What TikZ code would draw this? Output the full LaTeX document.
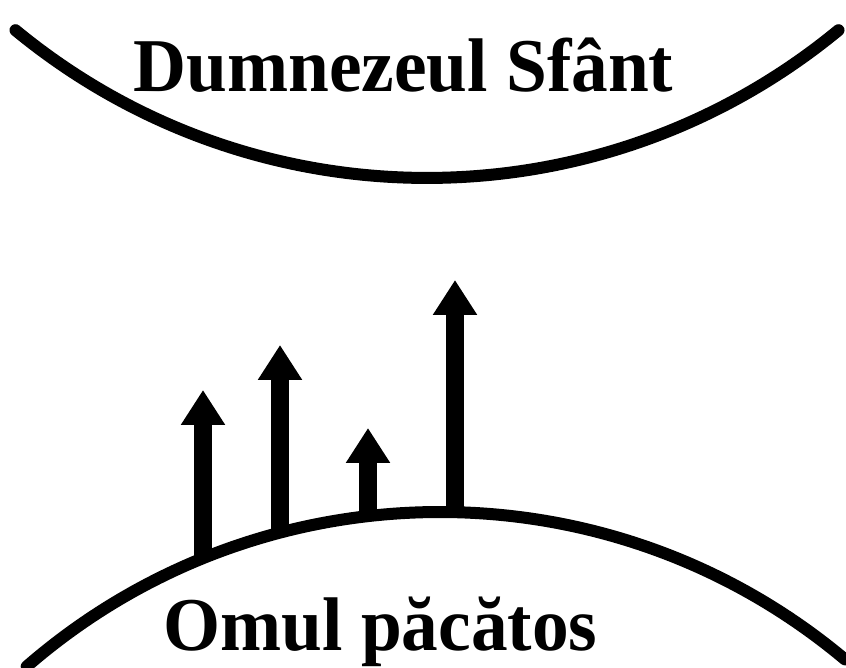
\documentclass[tikz,border=0pt]{standalone}
\usepackage{fontspec}
\setmainfont{Liberation Serif}
\usetikzlibrary{arrows.meta}

\begin{document}
\begin{tikzpicture}[
        x=1pt, y=1pt,
        curve/.style={
            line width=12pt,
            line cap=round
        },
        rise/.style={
            line width=18pt,
            -{Triangle[width=42pt, length=35pt]}
        },
        label/.style={
            font=\fontsize{76}{80}\selectfont\bfseries,
            inner sep=0pt,
            anchor=base,
            xscale=0.965
        }
    ]
    \useasboundingbox (0,0) rectangle (846,668);

    % --- GOD ---
    \draw[curve] (427,1137) ++(230.5:647) arc[start angle=230.5, end angle=309.5, radius=647];
    \node[label] (god) at (403.5,576) {Dumnezeul Sfânt};

    % --- MAN ---
    \draw[curve] (440,-474) ++(131:630) arc[start angle=131, end angle=50, radius=630];
    \node[label] (man) at (380.5,17) {Omul păcătos};

    % --- EFFORTS ---
    \coordinate (b1) at (203,110);
    \coordinate (b2) at (280,135);
    \coordinate (b3) at (368,152);
    \coordinate (b4) at (455,156);
    \coordinate (t1) at (203,278);
    \coordinate (t2) at (280,323);
    \coordinate (t3) at (368,240);
    \coordinate (t4) at (455,388);

    \foreach \i in {1,...,4}
        \draw[rise] (b\i) -- (t\i);

\end{tikzpicture}
\end{document}
